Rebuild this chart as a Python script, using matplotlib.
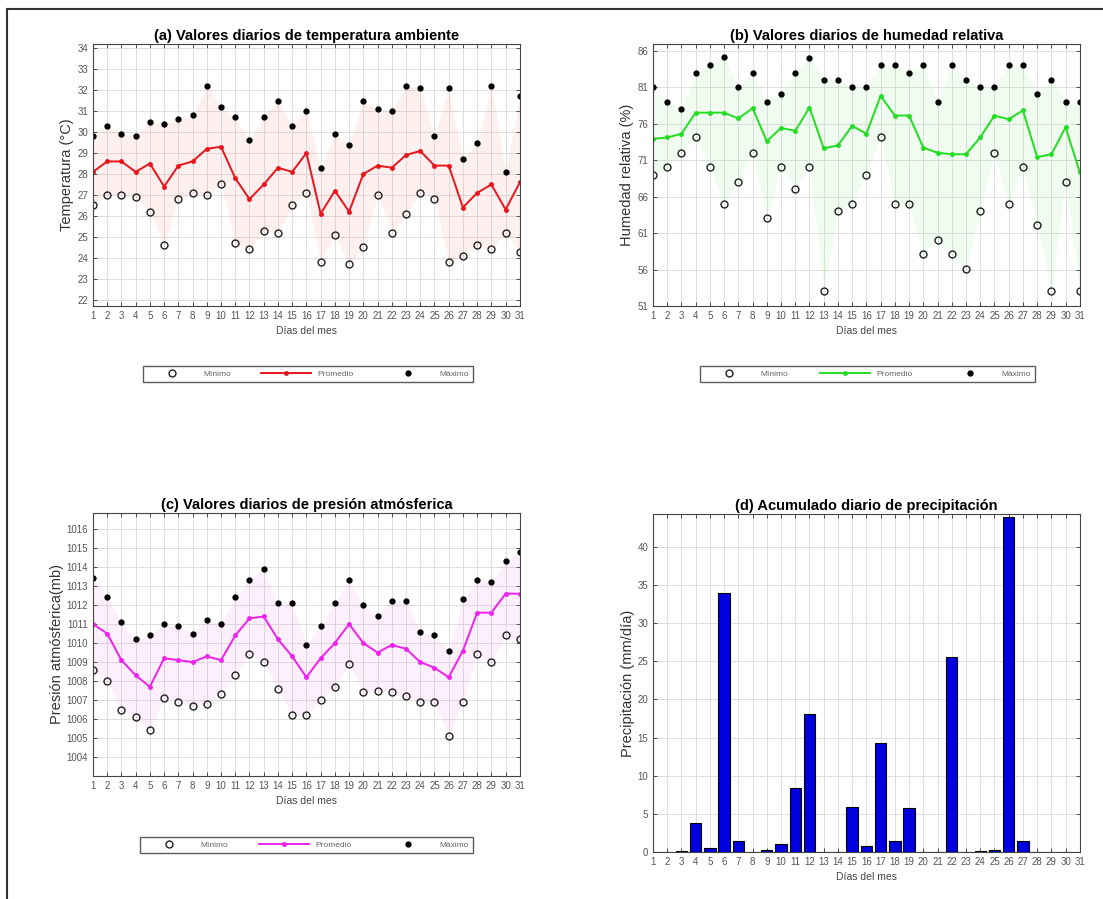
import numpy as np
import matplotlib
matplotlib.use('Agg')
import matplotlib.pyplot as plt
from matplotlib.lines import Line2D

plt.rcParams['font.family'] = ['Liberation Sans', 'DejaVu Sans']

dias = list(range(1, 32))

# temperatura (°C)
temp_max = [29.8, 30.3, 29.9, 29.8, 30.5, 30.4, 30.6, 30.8, 32.2, 31.2, 30.7, 29.6, 30.7, 31.5, 30.3, 31.0,
            28.3, 29.9, 29.4, 31.5, 31.1, 31.0, 32.2, 32.1, 29.8, 32.1, 28.7, 29.5, 32.2, 28.1, 31.7]
temp_med = [28.1, 28.6, 28.6, 28.1, 28.5, 27.4, 28.4, 28.6, 29.2, 29.3, 27.8, 26.8, 27.5, 28.3, 28.1, 29.0,
            26.1, 27.2, 26.2, 28.0, 28.4, 28.3, 28.9, 29.1, 28.4, 28.4, 26.4, 27.1, 27.5, 26.3, 27.6]
temp_min = [26.5, 27.0, 27.0, 26.9, 26.2, 24.6, 26.8, 27.1, 27.0, 27.5, 24.7, 24.4, 25.3, 25.2, 26.5, 27.1,
            23.8, 25.1, 23.7, 24.5, 27.0, 25.2, 26.1, 27.1, 26.8, 23.8, 24.1, 24.6, 24.4, 25.2, 24.3]

# humedad relativa (%)
hum_max = [81, 79, 78, 83, 84, 85.1, 81, 83, 79, 80, 83, 85, 82, 82, 81, 81,
           84, 84, 83, 84, 79, 84, 82, 81, 81, 84, 84, 80, 82, 79, 79]
hum_med = [73.9, 74.1, 74.6, 77.5, 77.5, 77.5, 76.7, 78.1, 73.6, 75.4, 75.0, 78.2, 72.6, 73.0, 75.7, 74.6,
           79.8, 77.1, 77.1, 72.7, 72.0, 71.8, 71.8, 74.1, 77.1, 76.6, 77.8, 71.4, 71.8, 75.5, 69.3]
hum_min = [69, 70, 72, 74.1, 70, 65, 68, 72, 63, 70, 67, 70, 53.1, 64, 65, 69,
           74.1, 65, 65, 58.1, 60.1, 58.1, 56.1, 64, 72, 65, 70, 62.1, 53.1, 68, 53.1]

# presión (mb)
pres_max = [1013.4, 1012.4, 1011.1, 1010.2, 1010.4, 1011.0, 1010.9, 1010.5, 1011.2, 1011.0, 1012.4, 1013.3,
            1013.9, 1012.1, 1012.1, 1009.9, 1010.9, 1012.1, 1013.3, 1012.0, 1011.4, 1012.2, 1012.2, 1010.6,
            1010.4, 1009.6, 1012.3, 1013.3, 1013.2, 1014.3, 1014.8]
pres_med = [1011.0, 1010.5, 1009.1, 1008.3, 1007.7, 1009.2, 1009.1, 1009.0, 1009.3, 1009.1, 1010.4, 1011.3,
            1011.4, 1010.2, 1009.3, 1008.2, 1009.2, 1010.0, 1011.0, 1010.0, 1009.5, 1009.9, 1009.7, 1009.0,
            1008.7, 1008.2, 1009.6, 1011.6, 1011.6, 1012.6, 1012.6]
pres_min = [1008.6, 1008.0, 1006.5, 1006.1, 1005.4, 1007.1, 1006.9, 1006.7, 1006.8, 1007.3, 1008.3, 1009.4,
            1009.0, 1007.6, 1006.2, 1006.2, 1007.0, 1007.7, 1008.9, 1007.4, 1007.5, 1007.4, 1007.2, 1006.9,
            1006.9, 1005.1, 1006.9, 1009.4, 1009.0, 1010.4, 1010.2]

# precipitación (mm/día)
precip = [0, 0, 0.1, 3.85, 0.5, 34.0, 1.4, 0.05, 0.2, 1.0, 8.4, 18.1, 0, 0, 5.9, 0.8,
          14.3, 1.5, 5.8, 0, 0, 25.5, 0, 0.1, 0.3, 43.9, 1.4, 0, 0, 0, 0]

TICK_COLOR = '#555555'


def estilo(ax, ylim, yticks):
    ax.set_xlim(1, 31)
    ax.set_ylim(*ylim)
    ax.set_xticks(dias)
    ax.set_yticks(yticks)
    ax.tick_params(direction='in', top=True, right=True, labelsize=7, colors='#333333',
                   labelcolor=TICK_COLOR, length=3, width=0.6)
    ax.grid(True, color='#dddddd', linewidth=0.7)
    ax.set_axisbelow(True)
    for s in ax.spines.values():
        s.set_color('#444444')
        s.set_linewidth(0.8)
    ax.set_xlabel('Días del mes', fontsize=7.5, color='#444444', labelpad=4)


def panel(ax, vmin, vmed, vmax, color, fill, titulo, ylabel):
    ax.fill_between(dias, vmin, vmax, color=fill, alpha=0.13, linewidth=0)
    ax.plot(dias, vmin, 'o', mfc='none', mec='#222222', ms=5, mew=1.0, label='Mínimo')
    ax.plot(dias, vmed, '-', color=color, marker='.', ms=5, lw=1.4, label='Promedio')
    ax.plot(dias, vmax, 'o', color='black', ms=3.5, label='Máximo')
    ax.set_title(titulo, fontsize=10.5, fontweight='bold', pad=3)
    ax.set_ylabel(ylabel, fontsize=10.5, color='#333333', labelpad=2)


def leyenda(fig, ax, x0, x1, yc):
    h, l = ax.get_legend_handles_labels()
    fig.legend(h, l, loc='lower left', bbox_to_anchor=(x0, yc - 0.0128, x1 - x0, 0.0256),
               mode='expand', ncol=3, fontsize=6, frameon=True, fancybox=False,
               edgecolor='#333333', borderaxespad=0, handlelength=6, labelcolor='#666666',
               borderpad=0.5)


fig = plt.figure(figsize=(11.03, 8.99), dpi=100)

ax_a = fig.add_axes([0.0843, 0.6596, 0.387, 0.2914])
ax_b = fig.add_axes([0.592, 0.6596, 0.387, 0.2914])
ax_c = fig.add_axes([0.0843, 0.1368, 0.387, 0.2926])
ax_d = fig.add_axes([0.592, 0.0523, 0.387, 0.376])

panel(ax_a, temp_min, temp_med, temp_max, '#e8151b', '#ff9090',
      '(a) Valores diarios de temperatura ambiente', 'Temperatura (°C)')
estilo(ax_a, (21.7, 34.2), range(22, 35))

panel(ax_b, hum_min, hum_med, hum_max, '#22dd22', '#90ee90',
      '(b) Valores diarios de humedad relativa', 'Humedad relativa (%)')
estilo(ax_b, (51, 86.9), range(51, 87, 5))

panel(ax_c, pres_min, pres_med, pres_max, '#ee22ee', '#f590ee',
      '(c) Valores diarios de presión atmósferica', 'Presión atmósferica(mb)')
estilo(ax_c, (1003, 1016.85), range(1004, 1017))

ax_d.bar(dias, precip, width=0.8, color='#0000e0', edgecolor='black', linewidth=0.8)
ax_d.set_title('(d) Acumulado diario de precipitación', fontsize=10.5, fontweight='bold', pad=3)
ax_d.set_ylabel('Precipitación (mm/día)', fontsize=10.5, color='#333333', labelpad=2)
estilo(ax_d, (0, 44.3), range(0, 45, 5))

leyenda(fig, ax_a, 0.1296, 0.4288, 0.5879)
leyenda(fig, ax_b, 0.6346, 0.9383, 0.5879)
leyenda(fig, ax_c, 0.1269, 0.4288, 0.064)

# marco de la figura
fig.add_artist(Line2D([0.0063, 1.0], [0.990, 0.990], color='#333333', lw=1.5))
fig.add_artist(Line2D([0.0063, 0.0063], [0.0, 0.990], color='#333333', lw=1.5))

fig.savefig('out.png', dpi=100)
